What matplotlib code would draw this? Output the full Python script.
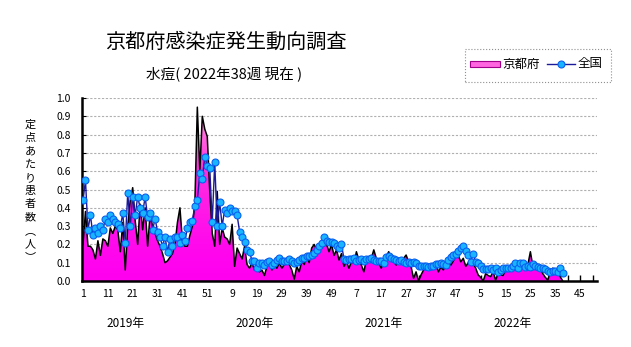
import numpy as np
import matplotlib
matplotlib.use('Agg')
import matplotlib.pyplot as plt
from matplotlib.colors import LinearSegmentedColormap
from matplotlib.patches import Rectangle
from matplotlib.lines import Line2D

plt.rcParams['font.family'] = ['Noto Sans CJK JP', 'DejaVu Sans']

# 定点あたり患者数 (京都府) 週ごと
kyoto_2019 = [0.20, 0.38, 0.19, 0.19, 0.17, 0.12, 0.22, 0.14, 0.23, 0.22,
              0.19, 0.29, 0.26, 0.30, 0.28, 0.16, 0.32, 0.06, 0.30, 0.44,
              0.51, 0.33, 0.20, 0.42, 0.28, 0.40, 0.19, 0.36, 0.30, 0.26,
              0.22, 0.19, 0.15, 0.10, 0.11, 0.13, 0.15, 0.20, 0.32, 0.40,
              0.22, 0.19, 0.19, 0.25, 0.30, 0.42, 0.95, 0.60, 0.90, 0.83,
              0.79, 0.49]
kyoto_2020 = [0.26, 0.19, 0.49, 0.20, 0.29, 0.24, 0.23, 0.20,
              0.31, 0.08, 0.18, 0.15, 0.12, 0.19, 0.09, 0.07, 0.10, 0.06,
              0.07, 0.05, 0.06, 0.03, 0.08, 0.10, 0.06, 0.09, 0.07, 0.10,
              0.07, 0.09, 0.10, 0.09, 0.06, 0.01, 0.08, 0.05, 0.11,
              0.09, 0.14, 0.10, 0.18, 0.20, 0.17, 0.19, 0.21, 0.24, 0.20,
              0.16, 0.20, 0.14, 0.17, 0.115]
kyoto_2021 = [0.15, 0.08,
              0.105, 0.07, 0.105, 0.097, 0.16, 0.115, 0.087, 0.05, 0.115, 0.105,
              0.124, 0.17, 0.124, 0.097, 0.07, 0.105, 0.133, 0.16, 0.124, 0.105,
              0.087, 0.115, 0.097, 0.124, 0.142, 0.105, 0.078, 0.015, 0.05, 0.0,
              0.033, 0.06, 0.07, 0.06, 0.078, 0.07, 0.087, 0.05, 0.078, 0.06,
              0.10, 0.115, 0.087, 0.11, 0.133, 0.14, 0.105, 0.124, 0.08, 0.10]
kyoto_2022 = [0.115, 0.097, 0.07, 0.033, 0.02, 0.0, 0.04, 0.03, 0.024, 0.05,
              0.005, 0.04, 0.033, 0.03, 0.06, 0.08, 0.07, 0.097, 0.08, 0.08,
              0.097, 0.08, 0.08, 0.09, 0.16, 0.08, 0.09, 0.085, 0.07, 0.04,
              0.02, 0.005, 0.05, 0.07, 0.06, 0.05, 0.024, 0.0]

# 全国
zenkoku_2019 = [0.44, 0.55, 0.28, 0.36, 0.25, 0.29, 0.26, 0.30, 0.28, 0.34,
                0.32, 0.36, 0.34, 0.32, 0.31, 0.29, 0.37, 0.21, 0.48, 0.30,
                0.46, 0.36, 0.46, 0.40, 0.37, 0.46, 0.35, 0.37, 0.28, 0.34,
                0.27, 0.24, 0.19, 0.24, 0.16, 0.23, 0.19, 0.24, 0.24, 0.21,
                0.25, 0.22, 0.29, 0.32, 0.33, 0.41, 0.44, 0.59, 0.56, 0.68,
                0.63, 0.62]
zenkoku_2020 = [0.32, 0.65, 0.30, 0.43, 0.30, 0.39, 0.37, 0.40,
                0.38, 0.38, 0.36, 0.27, 0.24, 0.215, 0.17, 0.16, 0.11, 0.11,
                0.07, 0.10, 0.10, 0.085, 0.105, 0.11, 0.087, 0.10, 0.115, 0.124,
                0.11, 0.11, 0.11, 0.12, 0.11, 0.097, 0.105, 0.115, 0.124,
                0.124, 0.137, 0.137, 0.14, 0.155, 0.17, 0.19, 0.21, 0.24, 0.22,
                0.215, 0.215, 0.21, 0.19, 0.18]
zenkoku_2021 = [0.20, 0.12,
                0.115, 0.12, 0.12, 0.124, 0.11, 0.115, 0.12, 0.11, 0.12, 0.12,
                0.124, 0.115, 0.11, 0.11, 0.11, 0.097, 0.133, 0.137, 0.124, 0.12,
                0.115, 0.11, 0.115, 0.105, 0.097, 0.105, 0.097, 0.105, 0.097, 0.082,
                0.084, 0.082, 0.084, 0.078, 0.084, 0.082, 0.091, 0.093, 0.097, 0.092,
                0.087, 0.115, 0.133, 0.142, 0.146, 0.166, 0.178, 0.19, 0.166, 0.142]
zenkoku_2022 = [0.105, 0.146, 0.105, 0.097, 0.084, 0.064, 0.064, 0.064, 0.069, 0.06,
                0.069, 0.05, 0.06, 0.069, 0.069, 0.069, 0.069, 0.082, 0.097, 0.069,
                0.097, 0.10, 0.078, 0.082, 0.078, 0.093, 0.082, 0.078, 0.069, 0.069,
                0.064, 0.055, 0.05, 0.055, 0.055, 0.05, 0.073, 0.045]

years = [2019, 2020, 2021, 2022]
weeks_per_year = 52

kyoto = np.array(kyoto_2019 + kyoto_2020 + kyoto_2021 + kyoto_2022)
zenkoku = np.array(zenkoku_2019 + zenkoku_2020 + zenkoku_2021 + zenkoku_2022)
x = np.arange(len(kyoto))

W, H = 631, 347
fx = lambda px: px / W
fy = lambda py: 1 - py / H

fig = plt.figure(figsize=(W / 100, H / 100), dpi=100)
ax = fig.add_axes([fx(82), 66 / H, 515 / W, 183 / H])

# 京都府: グラデーションの面
poly = ax.fill_between(x, kyoto, 0, facecolor='none', edgecolor='none')
pink = LinearSegmentedColormap.from_list('pk', ['#FF00F0', '#FF30DE', '#FFB0DC'])
grad = np.linspace(0, 1, 256)[:, None] ** 1.4
im = ax.imshow(grad, extent=[x[0], x[-1], 0, 1], origin='lower', aspect='auto',
               cmap=pink, vmin=0, vmax=1, zorder=1, interpolation='bilinear')
im.set_clip_path(poly.get_paths()[0], transform=ax.transData)
ax.plot(x, kyoto, color='black', lw=1.1, zorder=3)

# 全国
ax.plot(x, zenkoku, color='#1a1a9a', lw=1.0, marker='o', ms=5.0,
        mfc='#18B4FF', mec='#0A60F0', mew=0.8, zorder=4)

ax.set_xlim(-0.4, 206.8)
ax.set_ylim(0, 1.0)

yt = np.round(np.arange(0, 1.01, 0.1), 1)
ax.set_yticks(yt)
ax.set_yticklabels([f'{v:.1f}' for v in yt])
ax.yaxis.grid(True, color='#B0B0B0', lw=0.8, ls=(0, (2, 1.5)))
ax.set_axisbelow(True)

major = np.arange(0, 207, 10)
ax.set_xticks(major)
ax.set_xticklabels([str(i % weeks_per_year + 1) for i in major])
ax.set_xticks(np.arange(5, 207, 10), minor=True)
ax.tick_params(axis='x', which='both', direction='in', length=4, width=1,
               labelsize=7.5, pad=6)
ax.tick_params(axis='y', direction='in', length=3, labelsize=7.5, pad=8)

for s in ['top', 'right']:
    ax.spines[s].set_visible(False)
for s in ['left', 'bottom']:
    ax.spines[s].set_linewidth(1.8)

for k, yr in enumerate(years):
    ax.text(17 + weeks_per_year * k, -0.23, f'{yr}年', ha='center', va='center',
            fontsize=8.5, clip_on=False)

fig.text(fx(226), fy(42), '京都府感染症発生動向調査', ha='center', va='center', fontsize=14.5)
fig.text(fx(224), fy(75), '水痘( 2022年38週 現在 )', ha='center', va='center', fontsize=10.5)
fig.text(fx(30), fy(191), '定\n点\nあ\nた\nり\n患\n者\n数\n︵\n人\n︶',
         ha='center', va='center', fontsize=8, linespacing=1.4)

# 凡例
fig.add_artist(Rectangle((fx(465), fy(82)), 146 / W, 33 / H, transform=fig.transFigure,
                         facecolor='white', edgecolor='#909090', lw=0.8, ls=':'))
fig.add_artist(Rectangle((fx(470), fy(67)), 30 / W, 6 / H, transform=fig.transFigure,
                         facecolor='#FF66E0', edgecolor='#A0008A', lw=0.8))
fig.text(fx(502), fy(64), '京都府', ha='left', va='center', fontsize=9)
fig.add_artist(Line2D([fx(547), fx(575)], [fy(64), fy(64)], transform=fig.transFigure,
                      color='#1a1a9a', lw=1.0))
fig.add_artist(Line2D([fx(561)], [fy(64)], transform=fig.transFigure, marker='o',
                      ms=5, mfc='#18B4FF', mec='#0A60F0', mew=0.8, ls='none'))
fig.text(fx(578), fy(64), '全国', ha='left', va='center', fontsize=9)

fig.savefig('out.png', dpi=100)
